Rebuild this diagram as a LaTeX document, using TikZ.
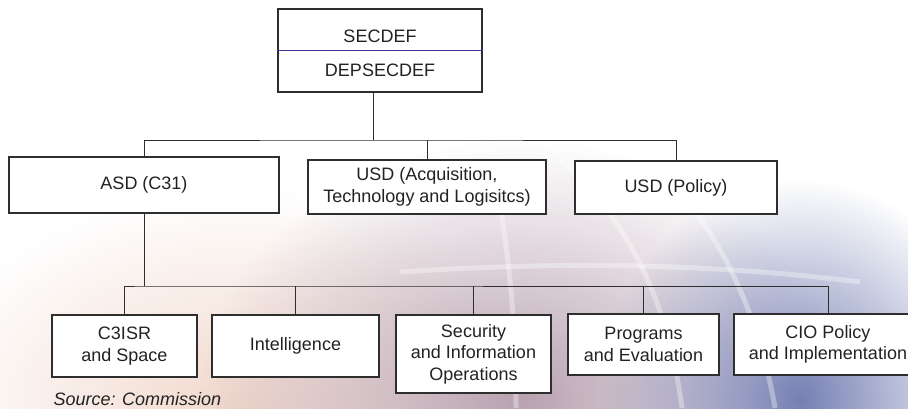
\documentclass[tikz,border=0pt]{standalone}
\usepackage{fontspec}
\setmainfont{Liberation Sans}
\usetikzlibrary{fadings}
\definecolor{linegray}{HTML}{2E2E2E}
\definecolor{textgray}{HTML}{222222}
\definecolor{divblue}{HTML}{3A3496}
\definecolor{globeblue}{HTML}{7680B4}
\definecolor{globepink}{HTML}{B8A2B0}
\definecolor{globepeach}{HTML}{F2D8CC}
\tikzfading[name=glow, inner color=transparent!0, outer color=transparent!100]

\begin{document}
\begin{tikzpicture}[x=1pt, y=-1pt,
    box/.style={draw=linegray, line width=1.3pt, fill=white, rectangle, inner sep=0pt},
    boxtext/.style={align=center, text=textgray, font=\fontsize{18}{21.5}\selectfont},
    link/.style={draw=linegray, line width=0.9pt},
    globeline/.style={white, line width=5pt, opacity=0.35}]

    \useasboundingbox (0,0) rectangle (908,408);
    \clip (0,0) rectangle (908,408);

    % Background globe
    \fill[white] (0,0) rectangle (908,408);
    \fill[globepeach, path fading=glow] (240,410) ellipse (320pt and 220pt);
    \fill[globepink, path fading=glow] (520,400) ellipse (320pt and 260pt);
    \fill[globeblue, path fading=glow] (800,400) ellipse (200pt and 220pt);
    \draw[globeline] (300,215) .. controls (400,140) and (560,130) .. (700,175);
    \draw[globeline] (560,160) .. controls (640,230) and (670,320) .. (682,408);
    \draw[globeline] (640,150) .. controls (720,220) and (760,320) .. (775,408);
    \draw[globeline] (500,205) .. controls (512,280) and (516,340) .. (516,408);
    \draw[globeline] (400,272) .. controls (550,262) and (700,262) .. (860,282);

    % Nodes
    \node[box, minimum width=204pt, minimum height=83pt] (sec) at (380,50.5) {};
    \node[boxtext] (secdef) at (380,36) {SECDEF};
    \node[boxtext] (depsec) at (380,70) {DEPSECDEF};

    \node[box, boxtext, minimum width=270pt, minimum height=56pt] (asd) at (144,185) {ASD (C31)};
    \node[box, boxtext, minimum width=238pt, minimum height=54pt] (acq) at (427,187) {USD (Acquisition,\\Technology and Logisitcs)};
    \node[box, boxtext, minimum width=202pt, minimum height=53pt] (pol) at (676,187.5) {USD (Policy)};

    \node[box, boxtext, minimum width=145pt, minimum height=62pt] (c3isr) at (124.5,346) {C3ISR\\and Space};
    \node[box, boxtext, minimum width=167pt, minimum height=62pt] (intel) at (295.5,346) {Intelligence};
    \node[box, boxtext, minimum width=155pt, minimum height=78pt] (secinfo) at (473.5,354) {Security\\and Information\\Operations};
    \node[box, boxtext, minimum width=151pt, minimum height=61pt] (prog) at (643.5,344.5) {Programs\\and Evaluation};
    \node[box, boxtext, minimum width=188pt, minimum height=61pt] (cio) at (828,344.5) {CIO Policy\\and Implementation};

    \node[anchor=west, text=textgray, font=\fontsize{18}{21.5}\selectfont\itshape] (source) at (50,399) {Source: Commission};

    % Lines
    \draw[divblue, line width=0.8pt] (sec.west) -- (sec.east);
    \coordinate (top) at (373,140);
    \draw[link] (sec.south -| top) -- (top);
    \draw[link] (asd.north) |- (top) -| (pol.north);
    \draw[link] (acq.north) -- (acq.north |- top);

    \coordinate (low) at (144,286);
    \draw[link] (asd.south) -- (low);
    \draw[link] (c3isr.north) |- (low) -| (cio.north);
    \foreach \n in {intel, secinfo, prog}
        \draw[link] (\n.north) -- (\n.north |- low);
\end{tikzpicture}
\end{document}
